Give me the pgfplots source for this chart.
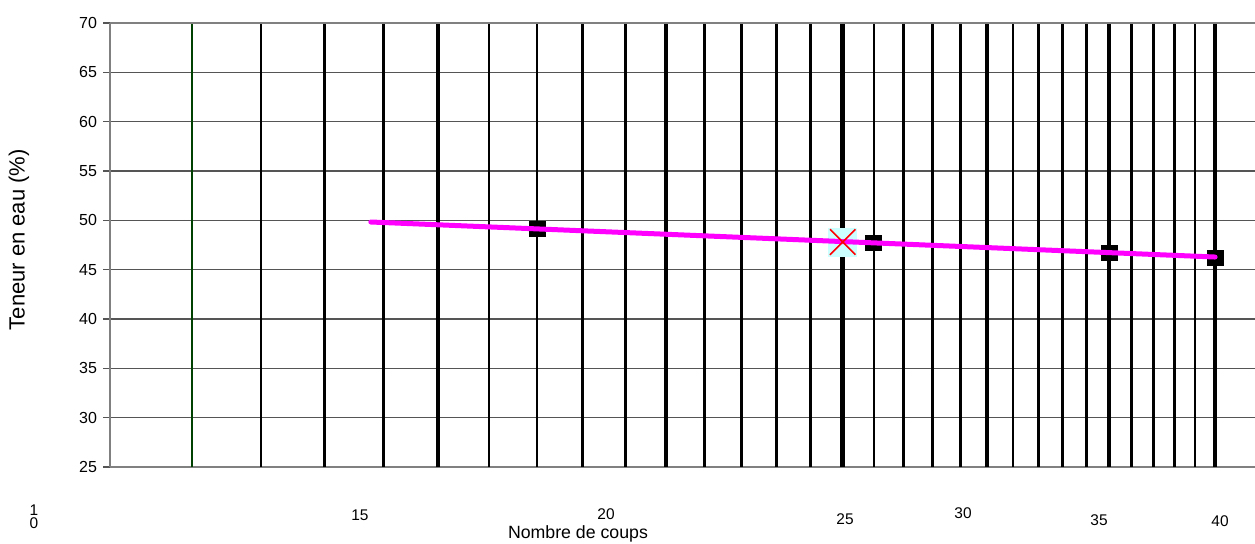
\documentclass[border=0pt]{standalone}
\usepackage{fontspec}
\setmainfont{Liberation Sans}
\usepackage{pgfplots}
\pgfplotsset{compat=1.18}
\definecolor{gridc}{RGB}{85,85,85}
\definecolor{axc}{RGB}{128,128,128}
\definecolor{dkgreen}{RGB}{0,64,0}
\definecolor{boxc}{RGB}{204,255,255}
\definecolor{fitc}{RGB}{255,0,255}
\begin{document}
\begin{tikzpicture}
\begin{axis}[
  name=ax,
  scale only axis,
  width=858.75pt, height=333pt,
  xmode=log,
  xmin=9.915, xmax=42.07,
  ymin=25, ymax=70,
  ytick={25,30,...,70},
  xtick=\empty,
  axis lines=left,
  axis line style={-, axc, line width=2.2pt},
  ymajorgrids,
  grid style={gridc, line width=1pt},
  tick align=outside,
  major tick length=5.25pt,
  ytick style={gridc, line width=1pt},
  yticklabel style={font=\fontsize{12}{14}\selectfont, xshift=-1pt},
  /pgf/number format/assume math mode=true,
  clip mode=individual,
]
% vertical reference lines (one per number of blows)
\addplot[ycomb, dkgreen, line width=1.4pt, no marks] coordinates {(11,70)};
\addplot[ycomb, black, line width=1.9pt, no marks] coordinates {
(12,70) (13,70) (14,70) (16,70) (17,70) (18,70) (19,70)
(21,70) (22,70) (23,70) (24,70) (26,70) (27,70) (28,70) (29,70)
(31,70) (32,70) (33,70) (34,70) (36,70) (37,70) (38,70) (39,70)};
\addplot[ycomb, black, line width=3.4pt, no marks] coordinates {
(15,70) (20,70) (25,70) (30,70) (35,70) (40,70)};
% top border
\draw[axc, line width=1.9pt] (rel axis cs:0,1) -- (rel axis cs:1,1);
% limit marker background
\addplot[only marks, mark=square*, mark size=10.5pt, draw=boxc, fill=boxc, mark options={fill=boxc, draw=boxc, line width=0pt}] coordinates {(25,47.8)};
% measured points
\addplot[only marks, mark=square*, mark size=5.5pt, mark options={fill=black, draw=black, line width=0.6pt, xscale=1.1, rounded corners=1.5pt}] coordinates {
(17,49.15) (26,47.73) (35,46.69) (40,46.21)};
% fitted line
\addplot[fitc, line width=3.75pt, line cap=round, no marks] coordinates {(13.78,49.83) (40,46.28)};
% liquid limit cross
\addplot[only marks, mark=x, mark size=13.5pt, mark options={red, line width=1.2pt}] coordinates {(25,47.8)};
% tick labels placed as in the source
\begin{scope}[every node/.style={font=\fontsize{11.6}{13}\selectfont, inner sep=0pt}]
\node[align=center, font=\fontsize{11.6}{9.8}\selectfont] at (rel axis cs:-0.0664,-0.1115) {1\\0};
\node at (rel axis cs:0.2183,-0.108) {15};
\node at (rel axis cs:0.4332,-0.1059) {20};
\node at (rel axis cs:0.6419,-0.1171) {25};
\node at (rel axis cs:0.745,-0.1036) {30};
\node at (rel axis cs:0.8638,-0.1194) {35};
\node at (rel axis cs:0.9694,-0.1216) {40};
\end{scope}
\node[font=\fontsize{13.3}{15}\selectfont, inner sep=0pt] at (rel axis cs:0.4087,-0.1509) {Nombre de coups};
\node[font=\fontsize{16.5}{18}\selectfont, inner sep=0pt, rotate=90] at (rel axis cs:-0.0795,0.5120) {Teneur en eau (\%)};
\coordinate (bbl) at (rel axis cs:-0.09607,-0.1712);
\coordinate (btr) at (rel axis cs:1,1.0518);
\end{axis}
\pgfresetboundingbox
\path[use as bounding box] (bbl) rectangle (btr);
\end{tikzpicture}
\end{document}
